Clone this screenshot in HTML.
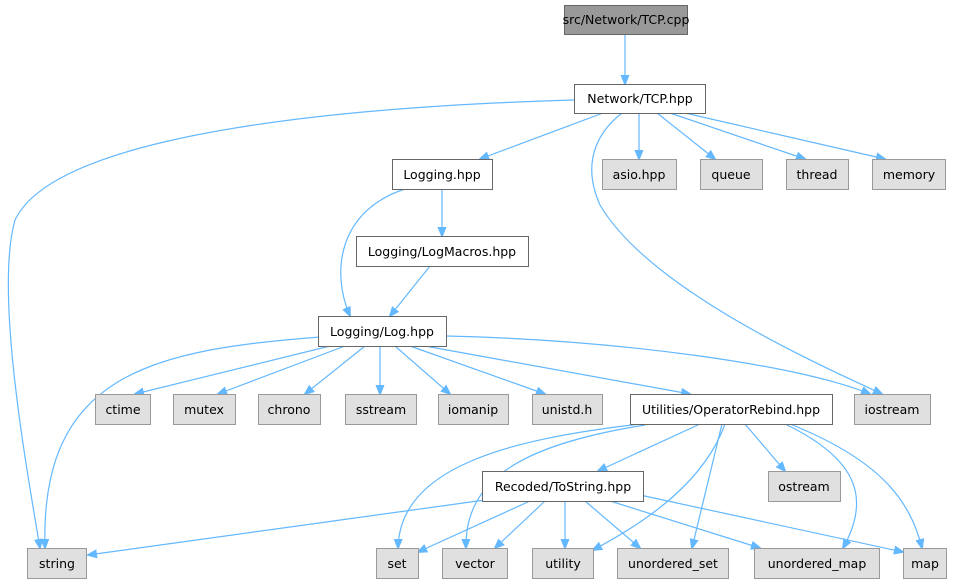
<!DOCTYPE html>
<html><head><meta charset="utf-8"><style>
html,body{margin:0;padding:0;background:#fff;}
svg{display:block;}
text{font-family:"DejaVu Sans","Liberation Sans",sans-serif;font-size:12.5px;fill:#000;text-anchor:middle;}
.e{fill:none;stroke:#63b8ff;stroke-width:1.2;marker-end:url(#a);}
.g{fill:#e0e0e0;stroke:#999;}
.w{fill:#fff;stroke:#666;}
</style></head><body>
<svg width="956" height="584" viewBox="0 0 956 584" xmlns="http://www.w3.org/2000/svg">
<defs><marker id="a" markerWidth="10" markerHeight="10" refX="9" refY="5" orient="auto" markerUnits="userSpaceOnUse"><path d="M0,1 L10,5 L0,9 z" fill="#63b8ff" stroke="#63b8ff"/></marker></defs>
<g>
<path class="e" d="M625,34 L625,84"/>
<path class="e" d="M574,100 C400,105 60,125 15,220 C-5,290 25,460 40,548"/>
<path class="e" d="M603,113 L480,159"/>
<path class="e" d="M639,113 L639,159"/>
<path class="e" d="M657,113 L715,159"/>
<path class="e" d="M670,113 L805,159"/>
<path class="e" d="M685,113 L885,159"/>
<path class="e" d="M622,113 C600,130 580,160 600,205 C650,290 820,365 882,394"/>
<path class="e" d="M442,189 L442,236"/>
<path class="e" d="M405,189 C340,210 330,270 350,316"/>
<path class="e" d="M430,266 L390,316"/>
<path class="e" d="M320,337 C150,350 40,375 45,548"/>
<path class="e" d="M330,346 L135,394"/>
<path class="e" d="M345,346 L218,394"/>
<path class="e" d="M365,346 L305,394"/>
<path class="e" d="M380,346 L380,394"/>
<path class="e" d="M395,346 L450,394"/>
<path class="e" d="M410,346 L545,394"/>
<path class="e" d="M425,346 L690,394"/>
<path class="e" d="M446,336 C620,340 800,365 870,394"/>
<path class="e" d="M640,424 C500,440 400,470 398,548"/>
<path class="e" d="M645,425 C520,445 465,480 466,548"/>
<path class="e" d="M700,424 L598,471"/>
<path class="e" d="M725,424 C705,480 650,520 593,550"/>
<path class="e" d="M722,424 L692,548"/>
<path class="e" d="M745,424 L785,471"/>
<path class="e" d="M785,424 C860,460 870,500 843,548"/>
<path class="e" d="M790,424 C880,460 910,500 922,548"/>
<path class="e" d="M485,500 L88,555"/>
<path class="e" d="M530,501 L418,552"/>
<path class="e" d="M545,501 L495,548"/>
<path class="e" d="M565,501 L565,548"/>
<path class="e" d="M585,501 L640,548"/>
<path class="e" d="M610,501 L760,548"/>
<path class="e" d="M640,495 L903,552"/>
</g>
<rect x="564.5" y="5.5" width="123" height="29" fill="#999" stroke="#666"/><text x="626" y="24">src/Network/TCP.cpp</text>
<rect class="w" x="574.5" y="84.5" width="131" height="29"/><text x="640" y="103">Network/TCP.hpp</text>
<rect class="w" x="392.5" y="159.5" width="100" height="30"/><text x="442" y="179">Logging.hpp</text>
<rect class="g" x="602.5" y="159.5" width="74" height="30"/><text x="639" y="179">asio.hpp</text>
<rect class="g" x="700.5" y="159.5" width="62" height="30"/><text x="731" y="179">queue</text>
<rect class="g" x="786.5" y="159.5" width="62" height="30"/><text x="817" y="179">thread</text>
<rect class="g" x="872.5" y="159.5" width="73" height="30"/><text x="909" y="179">memory</text>
<rect class="w" x="356.5" y="236.5" width="172" height="30"/><text x="442" y="256">Logging/LogMacros.hpp</text>
<rect class="w" x="318.5" y="316.5" width="128" height="30"/><text x="382" y="336">Logging/Log.hpp</text>
<rect class="g" x="95.5" y="394.5" width="55" height="30"/><text x="123" y="414">ctime</text>
<rect class="g" x="173.5" y="394.5" width="62" height="30"/><text x="204" y="414">mutex</text>
<rect class="g" x="258.5" y="394.5" width="62" height="30"/><text x="289" y="414">chrono</text>
<rect class="g" x="345.5" y="394.5" width="71" height="30"/><text x="381" y="414">sstream</text>
<rect class="g" x="438.5" y="394.5" width="70" height="30"/><text x="473" y="414">iomanip</text>
<rect class="g" x="532.5" y="394.5" width="70" height="30"/><text x="567" y="414">unistd.h</text>
<rect class="w" x="630.5" y="394.5" width="202" height="30"/><text x="731" y="414">Utilities/OperatorRebind.hpp</text>
<rect class="g" x="854.5" y="394.5" width="76" height="30"/><text x="892" y="414">iostream</text>
<rect class="w" x="482.5" y="471.5" width="161" height="30"/><text x="563" y="491">Recoded/ToString.hpp</text>
<rect class="g" x="768.5" y="471.5" width="72" height="30"/><text x="804" y="491">ostream</text>
<rect class="g" x="27.5" y="548.5" width="59" height="30"/><text x="57" y="568">string</text>
<rect class="g" x="376.5" y="548.5" width="42" height="30"/><text x="397" y="568">set</text>
<rect class="g" x="442.5" y="548.5" width="65" height="30"/><text x="475" y="568">vector</text>
<rect class="g" x="532.5" y="548.5" width="61" height="30"/><text x="563" y="568">utility</text>
<rect class="g" x="617.5" y="548.5" width="111" height="30"/><text x="673" y="568">unordered_set</text>
<rect class="g" x="754.5" y="548.5" width="125" height="30"/><text x="817" y="568">unordered_map</text>
<rect class="g" x="903.5" y="548.5" width="43" height="30"/><text x="925" y="568">map</text>
</svg>
</body></html>
